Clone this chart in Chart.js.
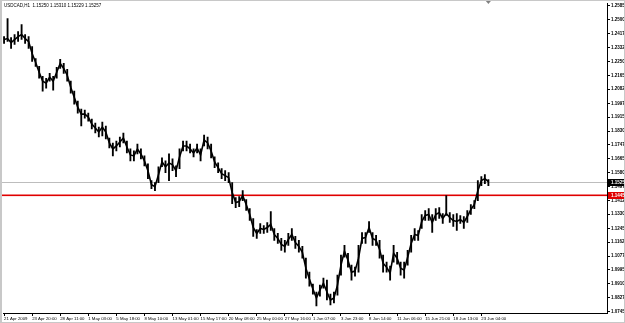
<!DOCTYPE html>
<html>
<head>
<meta charset="utf-8">
<script src="https://cdn.jsdelivr.net/npm/chart.js@4.4.0/dist/chart.umd.min.js"></script>
<style>
  html, body { margin: 0; padding: 0; background: #fff; }
  #wrap { width: 625px; height: 323px; position: relative; }
</style>
</head>
<body>
<div id="wrap"><canvas id="chart" width="625" height="323"></canvas></div>
<script>
// USDCAD H1, each sample = 8 hourly bars (high / low / trace centre)
var title = 'USDCAD,H1  1.15250 1.15310 1.15229 1.15257';
var bidPrice = 1.15257;
var levelPrice = 1.14450;

var timeLabels = ['21 Apr 2009', '23 Apr 20:00', '28 Apr 11:00', '1 May 03:00', '5 May 18:00',
	'8 May 10:00', '13 May 01:00', '15 May 17:00', '20 May 08:00', '25 May 00:00', '27 May 16:00',
	'1 Jun 07:00', '3 Jun 23:00', '8 Jun 14:00', '11 Jun 06:00', '15 Jun 21:00', '18 Jun 13:00',
	'23 Jun 04:00'];

var priceTicks = [1.25850, 1.25000, 1.24175, 1.23325, 1.22500, 1.21650, 1.20825, 1.19975,
	1.19150, 1.18300, 1.17475, 1.16650, 1.15800, 1.14975, 1.14125, 1.13300, 1.12450,
	1.11625, 1.10775, 1.09950, 1.09100, 1.08275, 1.07450];

var highs = [1.2400,1.2508,1.2394,1.2412,1.2430,1.2472,1.2412,1.2400,1.2340,1.2268,
	1.2220,1.2160,1.2149,1.2178,1.2160,1.2214,1.2262,1.2238,1.2202,1.2131,
	1.2071,1.2011,1.1963,1.1957,1.1939,1.1903,1.1879,1.1855,1.1885,1.1861,
	1.1789,1.1759,1.1771,1.1795,1.1819,1.1771,1.1723,1.1711,1.1753,1.1723,
	1.1681,1.1633,1.1532,1.1520,1.1616,1.1669,1.1651,1.1693,1.1663,1.1621,
	1.1723,1.1771,1.1771,1.1753,1.1723,1.1753,1.1723,1.1807,1.1795,1.1753,
	1.1675,1.1639,1.1604,1.1592,1.1580,1.1520,1.1430,1.1436,1.1472,1.1418,
	1.1364,1.1304,1.1238,1.1274,1.1262,1.1280,1.1346,1.1244,1.1214,1.1184,
	1.1172,1.1214,1.1244,1.1196,1.1172,1.1136,1.1065,1.0981,1.0909,1.0861,
	1.0903,1.0945,1.0933,1.0849,1.0861,1.0963,1.1083,1.1142,1.1095,1.1023,
	1.1011,1.1142,1.1220,1.1220,1.1286,1.1220,1.1202,1.1172,1.1083,1.1041,
	1.1017,1.1142,1.1101,1.1041,1.1041,1.1112,1.1202,1.1244,1.1232,1.1328,
	1.1352,1.1364,1.1328,1.1364,1.1370,1.1334,1.1442,1.1340,1.1328,1.1334,
	1.1322,1.1316,1.1352,1.1388,1.1412,1.1532,1.1556,1.1568,1.1538];

var lows = [1.2358,1.2370,1.2328,1.2352,1.2370,1.2382,1.2358,1.2328,1.2250,1.2220,
	1.2149,1.2071,1.2089,1.2131,1.2077,1.2149,1.2208,1.2178,1.2131,1.2059,
	1.1993,1.1939,1.1861,1.1909,1.1891,1.1843,1.1819,1.1795,1.1801,1.1783,
	1.1729,1.1681,1.1711,1.1735,1.1759,1.1699,1.1651,1.1651,1.1693,1.1663,
	1.1621,1.1544,1.1484,1.1472,1.1520,1.1616,1.1580,1.1532,1.1592,1.1556,
	1.1604,1.1711,1.1711,1.1699,1.1675,1.1699,1.1651,1.1741,1.1723,1.1669,
	1.1610,1.1580,1.1544,1.1532,1.1520,1.1394,1.1370,1.1376,1.1412,1.1352,
	1.1292,1.1196,1.1184,1.1214,1.1214,1.1220,1.1232,1.1172,1.1154,1.1112,
	1.1101,1.1142,1.1172,1.1124,1.1101,1.1065,1.0945,1.0897,1.0849,1.0777,
	1.0837,1.0885,1.0813,1.0783,1.0795,1.0843,1.0963,1.1071,1.1011,1.0933,
	1.0957,1.0981,1.1154,1.1154,1.1220,1.1142,1.1142,1.1065,1.0981,1.0981,
	1.0933,1.1041,1.1029,1.0963,1.0945,1.1023,1.1101,1.1172,1.1172,1.1244,
	1.1292,1.1292,1.1220,1.1292,1.1304,1.1274,1.1322,1.1280,1.1256,1.1232,
	1.1274,1.1244,1.1280,1.1328,1.1364,1.1412,1.1502,1.1514,1.1502];

var centres = [1.2382,1.2388,1.2364,1.2382,1.2400,1.2412,1.2388,1.2370,1.2298,1.2244,
	1.2185,1.2131,1.2119,1.2155,1.2131,1.2185,1.2238,1.2208,1.2167,1.2095,
	1.2035,1.1975,1.1933,1.1933,1.1915,1.1873,1.1849,1.1825,1.1855,1.1825,
	1.1759,1.1723,1.1741,1.1765,1.1789,1.1735,1.1687,1.1681,1.1723,1.1693,
	1.1651,1.1592,1.1508,1.1496,1.1568,1.1645,1.1616,1.1639,1.1627,1.1592,
	1.1675,1.1741,1.1741,1.1723,1.1699,1.1729,1.1687,1.1777,1.1759,1.1711,
	1.1645,1.1610,1.1574,1.1562,1.1550,1.1460,1.1400,1.1406,1.1442,1.1388,
	1.1328,1.1250,1.1214,1.1244,1.1238,1.1250,1.1268,1.1208,1.1184,1.1148,
	1.1136,1.1178,1.1208,1.1160,1.1136,1.1101,1.1005,1.0939,1.0879,1.0825,
	1.0873,1.0915,1.0861,1.0813,1.0825,1.0903,1.1023,1.1107,1.1053,1.0981,
	1.0987,1.1065,1.1184,1.1190,1.1250,1.1184,1.1172,1.1118,1.1035,1.1011,
	1.0975,1.1095,1.1065,1.1005,1.0993,1.1071,1.1154,1.1208,1.1202,1.1286,
	1.1322,1.1328,1.1280,1.1328,1.1340,1.1304,1.1334,1.1310,1.1292,1.1286,
	1.1298,1.1280,1.1316,1.1358,1.1388,1.1472,1.1532,1.1544,1.1526];

var SAMPLES_PER_LABEL = 8;
var timeFont = { family: 'Liberation Sans', size: 4.3 };
var priceFont = { family: 'Liberation Sans', size: 4.5, weight: 'bold' };
var levelRed = '#e00000';

var mt4Overlay = {
	id: 'mt4Overlay',
	beforeDatasetsDraw: function (chart) {
		var ctx = chart.ctx, area = chart.chartArea, y = chart.scales.y;
		ctx.save();
		var yb = Math.round(y.getPixelForValue(bidPrice));
		ctx.fillStyle = '#bdbdbd';
		ctx.fillRect(0, yb, area.right, 1);
		var yl = Math.round(y.getPixelForValue(levelPrice));
		ctx.fillStyle = levelRed;
		ctx.fillRect(0, yl - 0.5, area.right, 1.6);
		ctx.restore();
	},
	afterDraw: function (chart) {
		var ctx = chart.ctx, area = chart.chartArea, y = chart.scales.y, x = chart.scales.x;
		ctx.save();
		// window frame
		ctx.fillStyle = '#c8c8c8';
		ctx.fillRect(0, 0, 2, chart.height);
		ctx.fillRect(0, 0, chart.width, 1);
		ctx.fillRect(0, chart.height - 1, chart.width, 1);
		ctx.fillRect(chart.width - 1, 0, 1, chart.height);
		// price boxes on the axis
		ctx.font = 'bold 4.5px "Liberation Sans"';
		ctx.textBaseline = 'middle';
		[[bidPrice, '#000000'], [levelPrice, levelRed]].forEach(function (p) {
			var py = Math.round(y.getPixelForValue(p[0]));
			ctx.fillStyle = p[1];
			ctx.fillRect(area.right + 1, py - 3, chart.width - area.right - 2, 7);
			ctx.fillStyle = '#ffffff';
			ctx.fillText(p[0].toFixed(5), area.right + 4, py + 0.5);
		});
		// title
		ctx.font = '4.5px "Liberation Sans"';
		ctx.fillStyle = '#000';
		ctx.fillText(title, 4, 6);
		// chart shift marker
		var sx = x.getPixelForValue(highs.length - 1);
		ctx.fillStyle = '#808080';
		ctx.beginPath(); ctx.moveTo(sx - 2.5, 1); ctx.lineTo(sx + 2.5, 1); ctx.lineTo(sx, 4); ctx.closePath(); ctx.fill();
		ctx.restore();
	}
};

new Chart('chart', {
	type: 'bar',
	data: {
		datasets: [
			{
				type: 'line',
				label: 'Price',
				data: centres.map(function (v, i) { return { x: i, y: v }; }),
				borderColor: '#000000',
				borderWidth: 1.6,
				pointRadius: 0,
				tension: 0
			},
			{
				label: 'Range',
				data: highs.map(function (h, i) { return { x: i, y: [lows[i], h] }; }),
				backgroundColor: '#000000',
				borderWidth: 0,
				barThickness: 1.2
			}
		]
	},
	options: {
		responsive: false,
		animation: false,
		layout: { padding: { left: 3, top: 2, right: 0, bottom: 0 } },
		plugins: { legend: { display: false }, tooltip: { enabled: false } },
		scales: {
			x: {
				type: 'linear',
				position: 'bottom',
				offset: false,
				min: -0.3,
				max: 171.8,
				grid: { drawOnChartArea: false, drawTicks: true, tickLength: 3, color: '#000', offset: false },
				border: { display: true, color: '#000' },
				ticks: {
					autoSkip: false, maxRotation: 0, align: 'start', padding: 0,
					color: '#000', font: timeFont,
					callback: function (v) { return timeLabels[v / SAMPLES_PER_LABEL]; }
				},
				afterBuildTicks: function (s) {
					s.ticks = timeLabels.map(function (t, i) { return { value: i * SAMPLES_PER_LABEL }; });
				},
				afterFit: function (s) { s.height = 10; }
			},
			y: {
				position: 'right',
				min: 1.07349,
				max: 1.25978,
				grid: { drawOnChartArea: false, drawTicks: true, tickLength: 3, color: '#000' },
				border: { display: true, color: '#000' },
				ticks: {
					padding: 1, color: '#000', font: priceFont,
					callback: function (v) { return v.toFixed(5); }
				},
				afterBuildTicks: function (s) {
					s.ticks = priceTicks.map(function (v) { return { value: v }; });
				},
				afterFit: function (s) { s.width = 18; }
			}
		}
	},
	plugins: [mt4Overlay]
});
</script>
</body>
</html>
